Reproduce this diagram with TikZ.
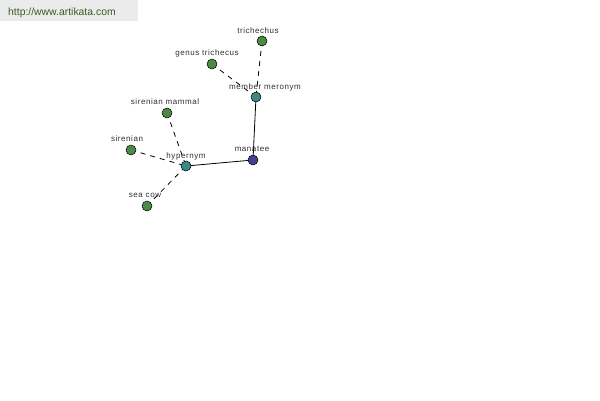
\documentclass[tikz,border=0pt]{standalone}
\usepackage{fontspec}
\setmainfont{Liberation Sans}
\newfontfamily\labfont[LetterSpace=7]{Liberation Sans}
\definecolor{leafgreen}{HTML}{4A8A44}
\definecolor{relteal}{HTML}{3A8A84}
\definecolor{rootblue}{HTML}{40408C}
\definecolor{hdrbg}{HTML}{EBEBEB}
\definecolor{hdrtext}{HTML}{3C5A1E}
\definecolor{labtext}{HTML}{303030}
\tikzset{
  wnode/.style={circle, draw=black, line width=0.5pt, minimum size=10pt, inner sep=0pt},
  leaf/.style={wnode, fill=leafgreen},
  rel/.style={wnode, fill=relteal},
  root/.style={wnode, fill=rootblue},
  lab/.style={font=\labfont\fontsize{8}{10}\selectfont, text=labtext, inner sep=0pt, anchor=base},
  solidedge/.style={draw=black, line width=0.8pt},
  dashedge/.style={draw=black, line width=0.8pt, dash pattern=on 5pt off 5pt},
}
\begin{document}
\begin{tikzpicture}[x=1pt, y=-1pt]
\useasboundingbox (0,0) rectangle (600,400);
\fill[white] (0,0) rectangle (600,400);
\fill[hdrbg] (0,0) rectangle (138,21);
\node[anchor=base west, inner sep=0pt, text=hdrtext, font=\fontsize{10.4}{12}\selectfont] (url) at (8,15) {http://www.artikata.com};

% node centres
\coordinate (pmanatee) at (253,160);
\coordinate (phyper) at (186,166);
\coordinate (pmero) at (256,97);
\coordinate (ptrich) at (262,41);
\coordinate (pgenus) at (212,64);
\coordinate (psmam) at (167,113);
\coordinate (psiren) at (131,150);
\coordinate (pseacow) at (147,206);

\path[solidedge] (phyper) -- (pmanatee);
\path[solidedge] (pmero) -- (pmanatee);
\path[dashedge] (ptrich) -- (pmero);
\path[dashedge] (pgenus) -- (pmero);
\path[dashedge] (psmam) -- (phyper);
\path[dashedge] (psiren) -- (phyper);
\path[dashedge] (pseacow) -- (phyper);

\node[root] (manatee) at (pmanatee) {};
\node[rel] (hyper) at (phyper) {};
\node[rel] (mero) at (pmero) {};
\node[leaf] (trich) at (ptrich) {};
\node[leaf] (genus) at (pgenus) {};
\node[leaf] (smam) at (psmam) {};
\node[leaf] (siren) at (psiren) {};
\node[leaf] (seacow) at (pseacow) {};

\node[lab] (lmanatee) at (252,151) {manatee};
\node[lab] (lhyper) at (186,158) {hypernym};
\node[lab] (lmero) at (265,89) {member meronym};
\node[lab] (ltrich) at (258,33) {trichechus};
\node[lab] (lgenus) at (207,55) {genus trichecus};
\node[lab] (lsmam) at (165,104) {sirenian mammal};
\node[lab] (lsiren) at (127,141) {sirenian};
\node[lab] (lseacow) at (145,197) {sea cow};
\end{tikzpicture}
\end{document}
